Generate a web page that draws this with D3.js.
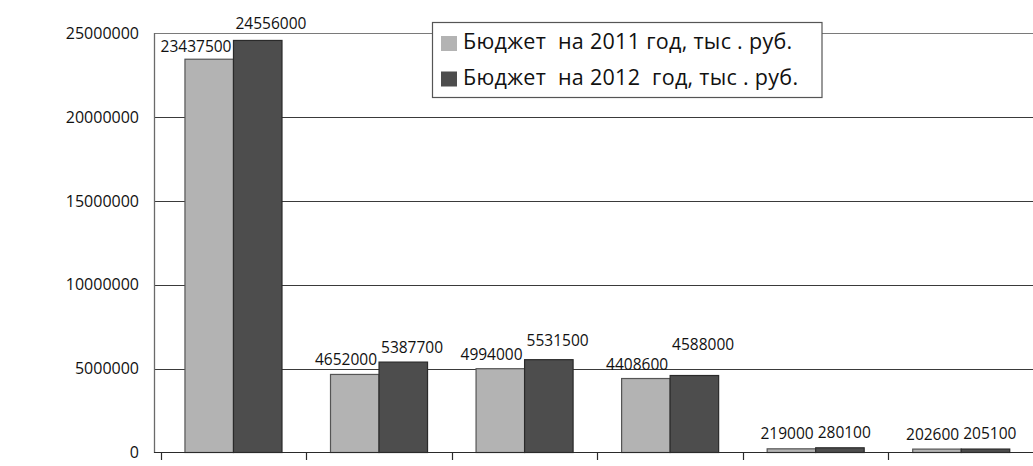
<!DOCTYPE html>
<meta charset="utf-8">
<script src="https://d3js.org/d3.v7.min.js"></script>
<style>
  body { margin: 0; background: #fff; }
  text { font-family: "Open Sans", sans-serif; fill: #111; }
</style>
<div id="chart"></div>
<script>

// data
var categories = ["1", "2", "3", "4", "5", "6"];
var series = ["Бюджет  на 2011 год, тыс . руб.", "Бюджет  на 2012  год, тыс . руб."];
var budget2011 = [23437500, 4652000, 4994000, 4408600, 219000, 202600];
var budget2012 = [24556000, 5387700, 5531500, 4588000, 280100, 205100];
var yTicks = [0, 5000000, 10000000, 15000000, 20000000, 25000000];

// layout
var W = 1033, H = 466;
var colors = ["#b3b3b3", "#4d4d4d"];
var strokes = ["#555", "#2a2a2a"];
// how far each value label sits above its bar (Excel moved a few of them)
var labelLift = [[7, 9.5, 9, 8.5, 9.5, 9.5], [11, 9.5, 14, 26, 10, 10]];

var rows = categories.map(function(c, i) {
  return { cat: c, values: [budget2011[i], budget2012[i]] };
});

var svg = d3.select("#chart").append("svg")
    .attr("width", W)
    .attr("height", H);

var y = d3.scaleLinear()
    .domain([0, 25000000])
    .range([452.5, 33]);

var x0 = d3.scaleBand()
    .domain(categories)
    .range([160.7, 1034]);

var x1 = d3.scaleBand()
    .domain([0, 1])
    .range([0, x0.bandwidth()])
    .paddingOuter(0.5);

// grid lines
svg.append("g").selectAll("line")
  .data(yTicks.filter(function(d) { return d > 0 && d < 25000000; }))
  .enter().append("line")
    .attr("x1", 154).attr("x2", W)
    .attr("y1", function(d) { return Math.round(y(d)) + 0.5; })
    .attr("y2", function(d) { return Math.round(y(d)) + 0.5; })
    .style("stroke", "#3a3a3a")
    .style("stroke-width", 1);

// top border of plot area
svg.append("line")
    .attr("x1", 154).attr("x2", W)
    .attr("y1", 33.5).attr("y2", 33.5)
    .style("stroke", "#7a7a7a").style("stroke-width", 1.2);

// y axis
svg.append("line")
    .attr("x1", 154.5).attr("x2", 154.5)
    .attr("y1", 33).attr("y2", 453)
    .style("stroke", "#6a6a6a").style("stroke-width", 1.3);

svg.append("g").selectAll("text")
  .data(yTicks)
  .enter().append("text")
    .attr("x", 139)
    .attr("y", function(d) { return y(d); })
    .attr("dy", "0.36em")
    .attr("text-anchor", "end")
    .style("font-size", "16px")
    .text(function(d) { return d; });

// bars
var groups = svg.append("g").selectAll("g")
  .data(rows)
  .enter().append("g")
    .attr("transform", function(d) { return "translate(" + x0(d.cat) + ",0)"; });

groups.selectAll("rect")
  .data(function(d) { return d.values; })
  .enter().append("rect")
    .attr("x", function(d, j) { return x1(j); })
    .attr("y", function(d) { return y(d); })
    .attr("width", x1.bandwidth())
    .attr("height", function(d) { return y(0) - y(d); })
    .style("fill", function(d, j) { return colors[j]; })
    .style("stroke", function(d, j) { return strokes[j]; })
    .style("stroke-width", 1.2);

// value labels
groups.each(function(d, i) {
  d3.select(this).selectAll("text")
    .data(d.values)
    .enter().append("text")
      .attr("x", function(v, j) { return j === 0 ? x1(0) + x1.bandwidth() - 2 : x1(1) + 2; })
      .attr("y", function(v, j) { return y(v) - labelLift[j][i]; })
      .attr("text-anchor", function(v, j) { return j === 0 ? "end" : "start"; })
      .style("font-size", "15.5px")
      .text(function(v) { return v; });
});

// x axis
svg.append("line")
    .attr("x1", 154).attr("x2", W)
    .attr("y1", 452.5).attr("y2", 452.5)
    .style("stroke", "#2a2a2a").style("stroke-width", 1.2);

svg.append("g").selectAll("line")
  .data(categories)
  .enter().append("line")
    .attr("x1", function(d) { return Math.round(x0(d)) + 0.5; })
    .attr("x2", function(d) { return Math.round(x0(d)) + 0.5; })
    .attr("y1", 452.5).attr("y2", 460)
    .style("stroke", "#2a2a2a").style("stroke-width", 1.2);

// legend
var legend = svg.append("g");
legend.append("rect")
    .attr("x", 432.5).attr("y", 22.5)
    .attr("width", 389.5).attr("height", 75)
    .style("fill", "#fff")
    .style("stroke", "#555")
    .style("stroke-width", 1.2);

series.forEach(function(s, j) {
  var cy = 43.5 + j * 35.5;
  legend.append("rect")
      .attr("x", 441).attr("y", cy - 7.5)
      .attr("width", 16).attr("height", 15)
      .style("fill", colors[j]);
  legend.append("text")
      .attr("x", 463).attr("y", cy + 5.5)
      .attr("xml:space", "preserve")
      .style("white-space", "pre")
      .style("font-size", "21.5px")
      .style("letter-spacing", "0.3px")
      .text(s);
});

</script>
